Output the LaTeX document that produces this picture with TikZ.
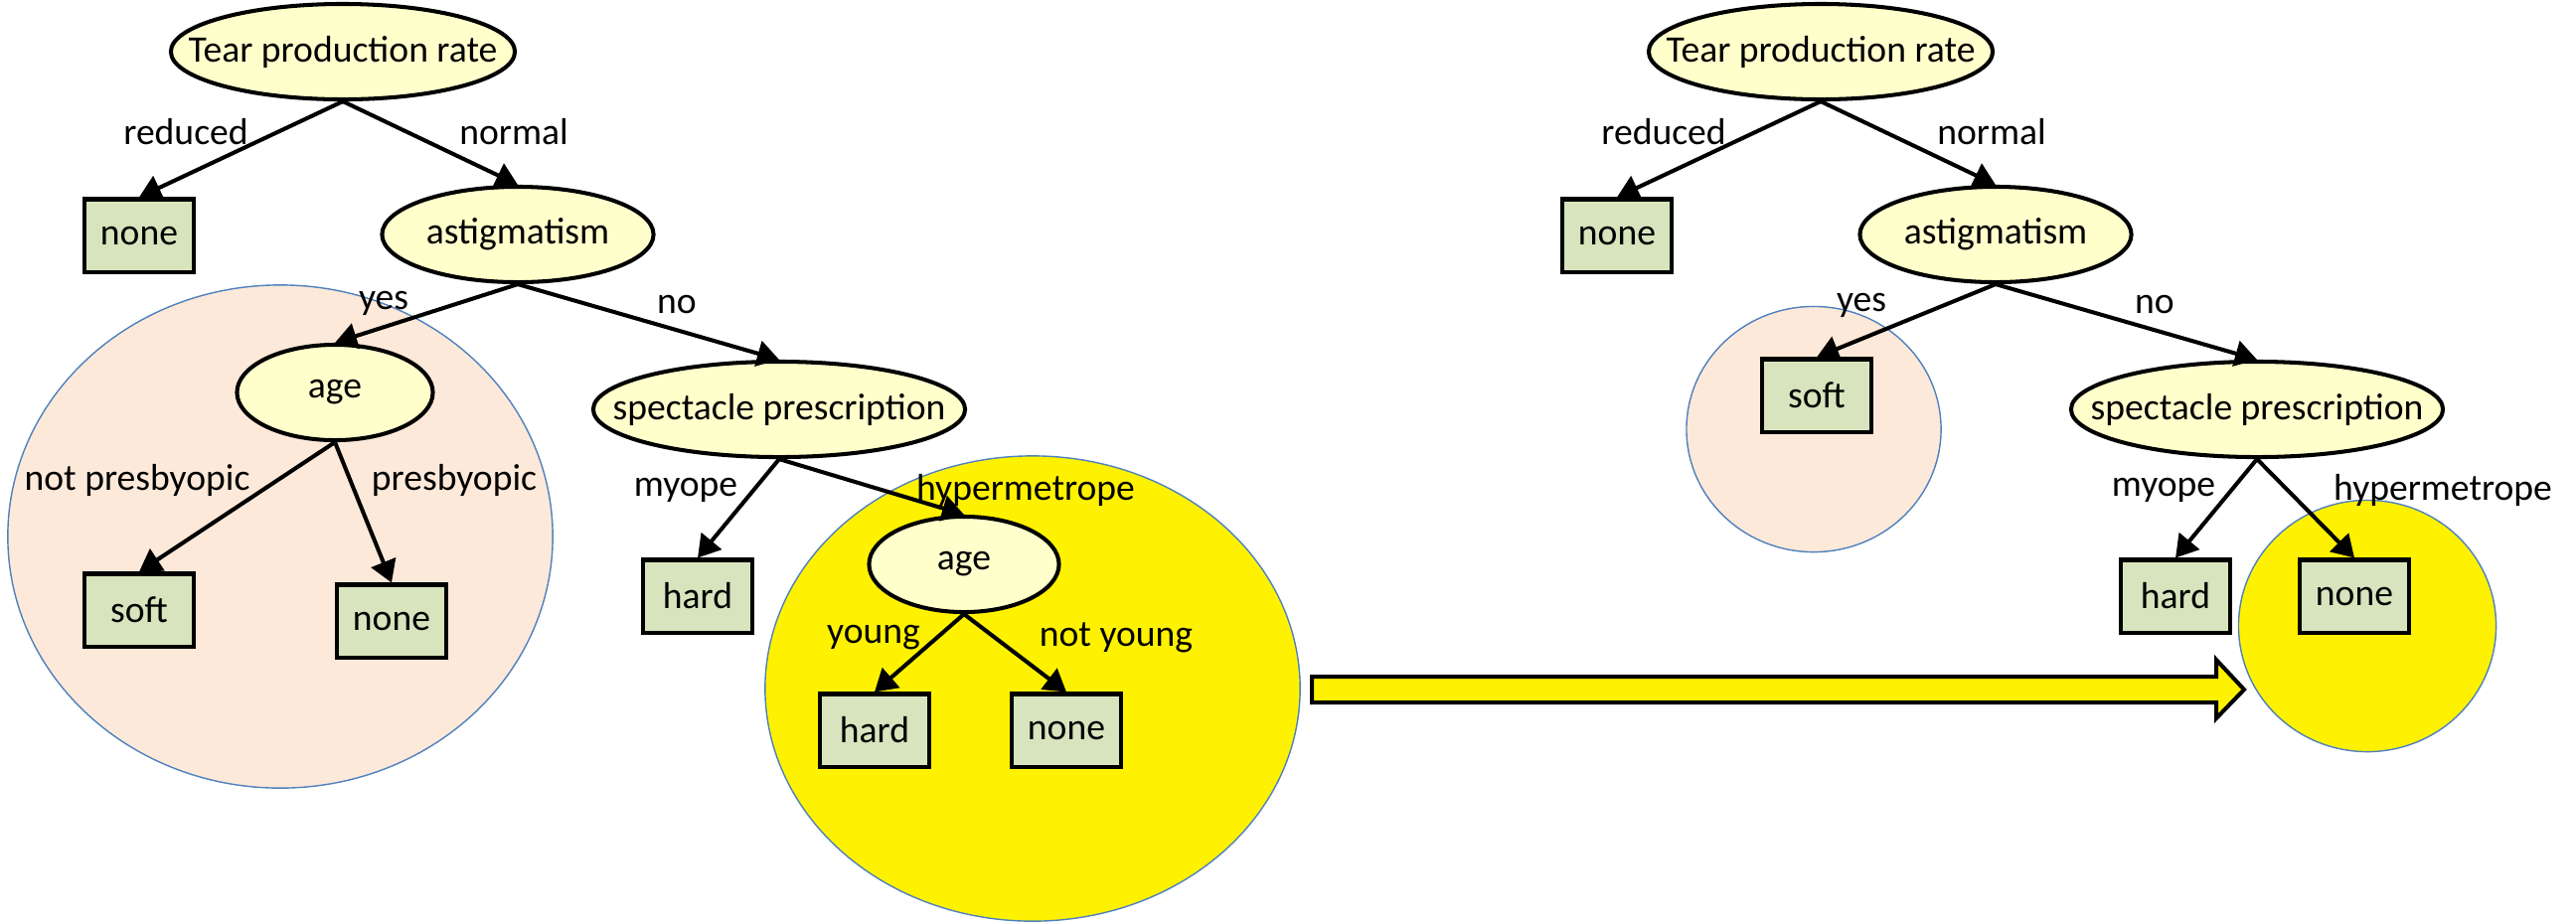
\documentclass[tikz,border=0pt]{standalone}
\usepackage{fontspec}
\setmainfont{Carlito}
\usetikzlibrary{shapes.geometric,arrows.meta}
\definecolor{attrfill}{HTML}{FFFFCC}
\definecolor{leaffill}{HTML}{D7E4BD}
\definecolor{peach}{HTML}{FDE9D9}
\definecolor{zoneline}{HTML}{4F81BD}
\tikzset{
  every node/.style={font=\fontsize{10.7}{12}\selectfont},
  attr/.style={ellipse,draw,line width=1.15pt,fill=attrfill,inner sep=0pt,minimum height=0.96cm,
    execute at begin node={\hbox to 0pt\bgroup\hss},execute at end node={\hss\egroup}},
  leafbox/.style={rectangle,draw,line width=1.15pt,fill=leaffill,inner sep=0pt,minimum width=1.10cm,minimum height=0.73cm},
  zone/.style={ellipse,draw=zoneline,line width=0.4pt,inner sep=0pt},
  lbl/.style={inner sep=0pt},
  branch/.style={line width=1.15pt,-{Triangle[length=2.2mm,width=2.6mm]}}
}
\begin{document}
\begin{tikzpicture}[x=0.01cm,y=-0.01cm]
\useasboundingbox (0,0) rectangle (2592,929);
% pruned regions
\node[zone,fill=peach,minimum width=5.48cm,minimum height=5.06cm] (zoneL) at (282,540) {};
\node[zone,fill=yellow,minimum width=5.38cm,minimum height=4.68cm] (hotL) at (1039,693) {};
\node[zone,fill=peach,minimum width=2.56cm,minimum height=2.47cm] (zoneR) at (1825,432) {};
\node[zone,fill=yellow,minimum width=2.59cm,minimum height=2.53cm] (hotR) at (2382,630) {};

% left tree
\node[attr,minimum width=3.46cm] (tear1) at (345,52) {Tear production rate};
\node[leafbox] (none1) at (140,237) {none};
\node[attr,minimum width=2.73cm] (astig1) at (521,236) {astigmatism};
\node[attr,minimum width=1.97cm] (age1) at (337,395) {age};
\node[attr,minimum width=3.74cm] (spec1) at (784,412) {spectacle prescription};
\node[leafbox] (soft1) at (140,614) {soft};
\node[leafbox] (none2) at (394,625) {none};
\node[leafbox] (hard1) at (702,600) {hard};
\node[attr,minimum width=1.91cm] (age2) at (970,568) {age};
\node[leafbox] (hard2) at (880,735) {hard};
\node[leafbox] (none3) at (1073,735) {none};

\node[lbl] (reduced1) at (187,133) {reduced};
\node[lbl] (normal1) at (517,133) {normal};
\node[lbl] (yes1) at (386,305) {yes};
\node[lbl] (no1) at (681,306) {no};
\node[lbl] (notpres) at (138,483) {not presbyopic};
\node[lbl] (pres) at (457,483) {presbyopic};
\node[lbl] (myope1) at (690,493) {myope};
\node[lbl] (hyper1) at (1032,493) {hypermetrope};
\node[lbl] (young) at (879,642) {young};
\node[lbl] (notyoung) at (1123,642) {not young};

\draw[branch] (tear1.south) -- (none1.north);
\draw[branch] (tear1.south) -- (astig1.north);
\draw[branch] (astig1.south) -- (age1.north);
\draw[branch] (astig1.south) -- (spec1.north);
\draw[branch] (age1.south) -- (soft1.north);
\draw[branch] (age1.south) -- (none2.north);
\draw[branch] (spec1.south) -- (hard1.north);
\draw[branch] (spec1.south) -- (age2.north);
\draw[branch] (age2.south) -- (hard2.north);
\draw[branch] (age2.south) -- (none3.north);

% pruning arrow
\draw[line width=1.15pt,fill=yellow] (1320,681) -- (2230,681) -- (2230,664) -- (2258,694)
  -- (2230,723) -- (2230,707) -- (1320,707) -- cycle;

% right tree
\node[attr,minimum width=3.46cm] (tear2) at (1832,52) {Tear production rate};
\node[leafbox] (none4) at (1627,237) {none};
\node[attr,minimum width=2.73cm] (astig2) at (2008,236) {astigmatism};
\node[leafbox] (soft2) at (1828,398) {soft};
\node[attr,minimum width=3.74cm] (spec2) at (2271,412) {spectacle prescription};
\node[leafbox] (hard3) at (2189,600) {hard};
\node[leafbox] (none5) at (2369,600) {none};

\node[lbl] (reduced2) at (1674,133) {reduced};
\node[lbl] (normal2) at (2004,133) {normal};
\node[lbl] (yes2) at (1873,307) {yes};
\node[lbl] (no2) at (2168,306) {no};
\node[lbl] (myope2) at (2177,493) {myope};
\node[lbl] (hyper2) at (2458,493) {hypermetrope};

\draw[branch] (tear2.south) -- (none4.north);
\draw[branch] (tear2.south) -- (astig2.north);
\draw[branch] (astig2.south) -- (soft2.north);
\draw[branch] (astig2.south) -- (spec2.north);
\draw[branch] (spec2.south) -- (hard3.north);
\draw[branch] (spec2.south) -- (none5.north);
\end{tikzpicture}
\end{document}
